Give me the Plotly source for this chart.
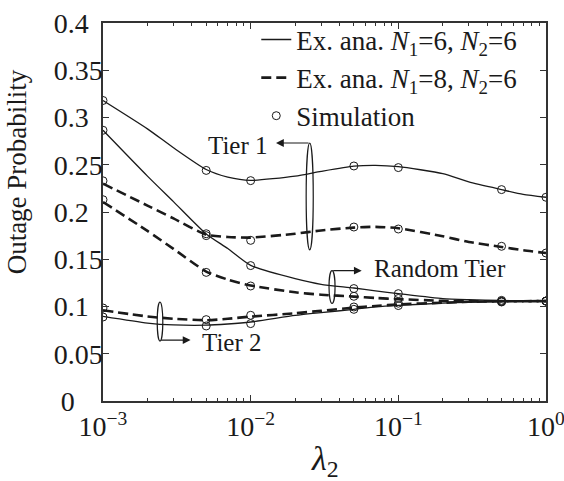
import plotly.graph_objects as go

# ---------------- data ----------------
x_ana = [0.001, 0.002, 0.003, 0.005, 0.007, 0.01, 0.02, 0.03, 0.05, 0.07, 0.1, 0.2, 0.3, 0.5, 0.7, 1.0]
x_sim = [0.001, 0.005, 0.01, 0.05, 0.1, 0.5, 1.0]

# analytic, N1=6, N2=6 (solid)
t1_n6 = [0.318, 0.288, 0.268, 0.245, 0.237, 0.2335, 0.238, 0.243, 0.2485, 0.2494, 0.248, 0.2406, 0.2318, 0.2237, 0.2187, 0.2156]
rt_n6 = [0.2865, 0.238, 0.211, 0.1768, 0.1613, 0.1435, 0.1295, 0.1235, 0.1196, 0.1165, 0.1136, 0.1083, 0.1072, 0.1064, 0.106, 0.1058]
t2_n6 = [0.0896, 0.0825, 0.0805, 0.0802, 0.0815, 0.0836, 0.0905, 0.0935, 0.097, 0.0995, 0.1012, 0.1035, 0.1045, 0.1052, 0.1055, 0.1056]
# analytic, N1=8, N2=6 (dashed)
t1_n8 = [0.230, 0.2068, 0.1932, 0.176, 0.1736, 0.1729, 0.177, 0.1805, 0.1835, 0.1843, 0.1828, 0.1743, 0.1683, 0.163, 0.1595, 0.1566]
rt_n8 = [0.2106, 0.180, 0.161, 0.137, 0.1285, 0.1222, 0.115, 0.1125, 0.1105, 0.109, 0.1078, 0.106, 0.1056, 0.1055, 0.1056, 0.1057]
t2_n8 = [0.096, 0.0895, 0.087, 0.0855, 0.087, 0.0893, 0.0928, 0.0955, 0.0988, 0.1005, 0.1022, 0.104, 0.105, 0.1055, 0.1056, 0.1057]

# simulation
s_t1_n6 = [0.318, 0.244, 0.2332, 0.2487, 0.247, 0.2237, 0.2156]
s_rt_n6 = [0.2865, 0.175, 0.1433, 0.119, 0.1136, 0.1065, 0.1058]
s_t2_n6 = [0.0889, 0.0794, 0.0819, 0.097, 0.101, 0.1048, 0.1056]
s_t1_n8 = [0.233, 0.177, 0.170, 0.1841, 0.182, 0.1637, 0.1566]
s_rt_n8 = [0.213, 0.1361, 0.1217, 0.1108, 0.1085, 0.1052, 0.1058]
s_t2_n8 = [0.0984, 0.0861, 0.0907, 0.0995, 0.1035, 0.1055, 0.1058]

y_ticks = [0, 0.05, 0.1, 0.15, 0.2, 0.25, 0.3, 0.35, 0.4]
y_ticktext = ["0", "0.05", "0.1", "0.15", "0.2", "0.25", "0.3", "0.35", "0.4"]
x_ticks = [0.001, 0.01, 0.1, 1]
x_ticktext = ["10<sup>−3</sup>", "10<sup>−2</sup>", "10<sup>−1</sup>", "10<sup>0</sup>"]
x_minor = [k * 10.0 ** e for e in (-3, -2, -1) for k in range(2, 10)]

legend_solid = "Ex. ana. <i>N</i><sub>1</sub>=6, <i>N</i><sub>2</sub>=6"
legend_dash = "Ex. ana. <i>N</i><sub>1</sub>=8, <i>N</i><sub>2</sub>=6"

# y tick labels look left-aligned in the reference: pad the shorter ones on the right
NB = "\u00a0"
y_ticktext_padded = [
    t + NB * 4 if t == "0" else (t + NB * 2 if len(t) == 3 else t) for t in y_ticktext
]

# ---------------- figure ----------------
FONT = "Liberation Serif, Times New Roman, serif"
INK = "#1a1a1a"
fig = go.Figure()

for i, ys in enumerate([t1_n6, rt_n6, t2_n6]):
    fig.add_trace(go.Scatter(x=x_ana, y=ys, mode="lines", name=legend_solid,
                             showlegend=(i == 0), legendgroup="solid",
                             line=dict(color=INK, width=1.3, shape="spline", smoothing=0.6)))
for i, ys in enumerate([t1_n8, rt_n8, t2_n8]):
    fig.add_trace(go.Scatter(x=x_ana, y=ys, mode="lines", name=legend_dash,
                             showlegend=(i == 0), legendgroup="dash",
                             line=dict(color=INK, width=2.6, dash="10px,5px", shape="spline", smoothing=0.6)))
for i, ys in enumerate([s_t1_n6, s_rt_n6, s_t2_n6, s_t1_n8, s_rt_n8, s_t2_n8]):
    fig.add_trace(go.Scatter(x=x_sim, y=ys, mode="markers", name="Simulation",
                             showlegend=(i == 0), legendgroup="sim",
                             marker=dict(symbol="circle-open", size=8, color=INK, line=dict(width=1))))

# ellipses (annotation decorations)
ellipses = [
    (0.4666, 0.0080, 0.160, 0.273),   # Tier 1
    (0.5170, 0.0068, 0.1032, 0.1379), # Random Tier
    (0.1287, 0.0063, 0.0634, 0.1047), # Tier 2
]
for cx, hw, y0, y1 in ellipses:
    fig.add_shape(type="circle", xref="x domain", yref="y",
                  x0=cx - hw, x1=cx + hw, y0=y0, y1=y1,
                  line=dict(color=INK, width=1.2))

# arrows
arrows = [
    (0.3905, 0.273, 34),   # Tier 1, pointing left
    (0.5840, 0.1379, -30), # Random Tier, pointing right
    (0.1977, 0.0645, -31), # Tier 2, pointing right
]
for xt, yt, dx in arrows:
    fig.add_annotation(x=xt, y=yt, xref="x domain", yref="y", text="",
                       showarrow=True, ax=dx, ay=0, axref="pixel", ayref="pixel",
                       arrowhead=2, arrowsize=1.3, arrowwidth=1.2, arrowcolor=INK)

labels = [
    ("Tier 1", 0.377, 0.270, "right"),
    ("Random Tier", 0.607, 0.140, "left"),
    ("Tier 2", 0.219, 0.062, "left"),
]
for txt, xl, yl, anc in labels:
    fig.add_annotation(x=xl, y=yl, xref="x domain", yref="y", text=txt, showarrow=False,
                       xanchor=anc, yanchor="middle",
                       font=dict(family=FONT, size=25, color=INK))

# axis titles
fig.add_annotation(x=-0.194, y=0.605, xref="paper", yref="paper", text="Outage Probability",
                   textangle=-90, showarrow=False, xanchor="center", yanchor="middle",
                   font=dict(family=FONT, size=27, color=INK))
fig.add_annotation(x=0.501, y=-0.158, xref="paper", yref="paper", text="<i>λ</i><sub>2</sub>",
                   showarrow=False, xanchor="center", yanchor="middle",
                   font=dict(family=FONT, size=34, color=INK))

axis_common = dict(showline=True, linecolor="#333", linewidth=1.5, mirror="allticks",
                   ticks="inside", ticklen=6, tickcolor="#333", showgrid=False, zeroline=False,
                   automargin=False, ticklabeloverflow="allow",
                   tickfont=dict(family=FONT, size=28, color=INK))

fig.update_xaxes(type="log", range=[-3, 0], tickmode="array", tickvals=x_ticks, ticktext=x_ticktext,
                 minor=dict(tickmode="array", tickvals=x_minor, ticks="inside", ticklen=3, tickcolor="#333"),
                 **axis_common)
fig.update_yaxes(range=[0, 0.4], tickmode="array", tickvals=y_ticks, ticktext=y_ticktext_padded,
                 ticklabelstandoff=-7, **axis_common)

fig.update_layout(
    width=564, height=481, autosize=False,
    margin=dict(l=103, r=18, t=23, b=80),
    paper_bgcolor="white", plot_bgcolor="white",
    font=dict(family=FONT, color=INK),
    legend=dict(x=0.346, y=1.02, xanchor="left", yanchor="top", bgcolor="rgba(0,0,0,0)",
                font=dict(family=FONT, size=27, color=INK), traceorder="normal"),
)

fig.write_html("out.html", config={"displayModeBar": False},
               post_script="document.body.style.margin='0';")
